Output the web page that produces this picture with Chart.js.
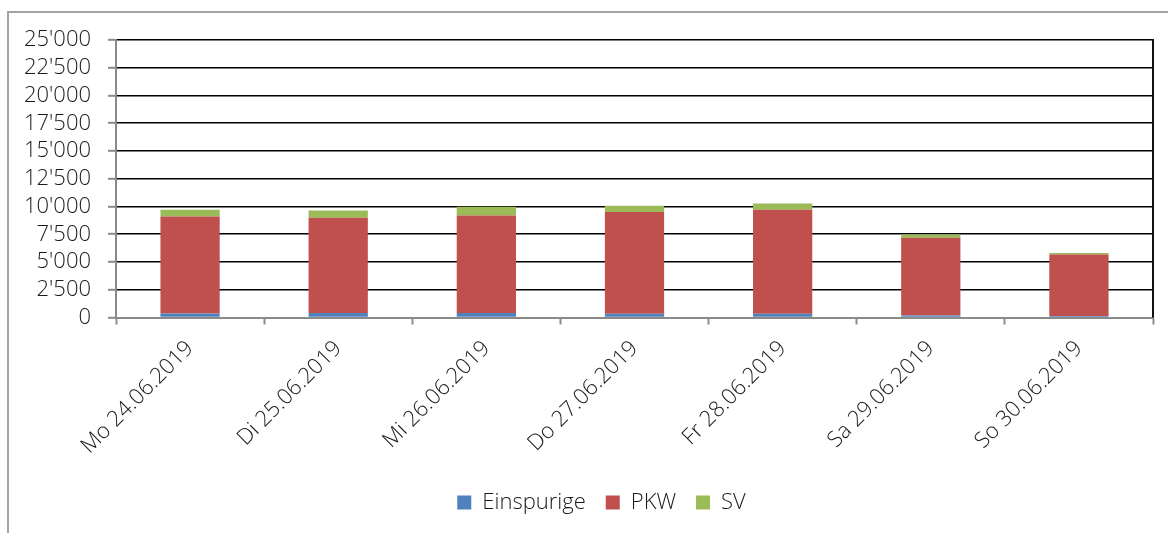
<!DOCTYPE html>
<html>
<head>
<meta charset="utf-8">
<script src="https://cdn.jsdelivr.net/npm/chart.js@4/dist/chart.umd.min.js"></script>
<style>
  html, body { margin: 0; padding: 0; background: #fff; overflow: hidden; }
  #frame {
    position: absolute; left: 7px; top: 11px; width: 1200px; height: 600px;
    border-left: 2px solid #a3a3a3; border-top: 2px solid #a3a3a3;
  }
  #wrap { position: absolute; left: 0; top: 0; width: 1168px; height: 538px; }
</style>
</head>
<body>
<div id="frame"></div>
<div id="wrap"><canvas id="chart"></canvas></div>
<script>
// --- Data ---
const days = [
  "Mo 24.06.2019",
  "Di 25.06.2019",
  "Mi 26.06.2019",
  "Do 27.06.2019",
  "Fr 28.06.2019",
  "Sa 29.06.2019",
  "So 30.06.2019"
];

const einspurige = [360, 400, 400, 340, 340, 180, 130];
const pkw = [8740, 8580, 8790, 9160, 9360, 7000, 5550];
const sv = [600, 660, 780, 560, 570, 300, 120];

const Y_MAX = 25000;
const Y_STEP = 2500;

// --- Style ---
const FONT = { family: "'Open Sans', sans-serif", size: 22, weight: "300" };
const TEXT = "#1a1a1a";
const AXIS = "#8a8a8a";

// thousands with apostrophe, e.g. 25'000
function swiss(n) {
  return String(n).replace(/\B(?=(\d{3})+(?!\d))/g, "'");
}

// black line on the right edge of the plot area
const rightEdge = {
  id: "rightEdge",
  beforeDatasetsDraw(chart) {
    const { ctx, chartArea } = chart;
    ctx.save();
    ctx.strokeStyle = "#111";
    ctx.lineWidth = 2;
    ctx.beginPath();
    ctx.moveTo(chartArea.right, chartArea.top - 1);
    ctx.lineTo(chartArea.right, chartArea.bottom);
    ctx.stroke();
    ctx.restore();
  }
};

// legend in the original sits a bit right of the canvas centre
const legendShift = {
  id: "legendShift",
  afterLayout(chart) {
    const lg = chart.legend;
    if (!lg) return;
    lg.left += 20;
    lg.right += 20;
  }
};

new Chart(document.getElementById("chart"), {
  type: "bar",
  data: {
    labels: days,
    datasets: [
      { label: "Einspurige", data: einspurige, backgroundColor: "#4F81BD" },
      { label: "PKW", data: pkw, backgroundColor: "#C0504D" },
      { label: "SV", data: sv, backgroundColor: "#9BBB59" }
    ]
  },
  options: {
    responsive: true,
    maintainAspectRatio: false,
    animation: false,
    layout: { padding: { left: 10, right: 15, top: 40, bottom: 14.5 } },
    datasets: { bar: { barPercentage: 0.4, categoryPercentage: 1 } },
    scales: {
      x: {
        stacked: true,
        afterFit: (s) => { s.height = 154; },
        grid: {
          drawOnChartArea: false,
          drawTicks: true,
          tickLength: 7,
          tickColor: AXIS,
          tickWidth: 2
        },
        border: { color: AXIS, width: 2 },
        ticks: {
          autoSkip: false,
          maxRotation: 45,
          minRotation: 45,
          padding: 11,
          color: TEXT,
          font: FONT
        }
      },
      y: {
        stacked: true,
        min: 0,
        max: Y_MAX,
        afterFit: (s) => { s.width = 106; },
        grid: {
          color: (c) => (c.tick && c.tick.value === 0 ? "rgba(0,0,0,0)" : "#000"),
          lineWidth: 1.6,
          tickLength: 8,
          tickColor: AXIS,
          tickWidth: 2
        },
        border: { color: AXIS, width: 2 },
        ticks: {
          stepSize: Y_STEP,
          autoSkip: false,
          padding: 17,
          color: TEXT,
          font: FONT,
          callback: (v) => swiss(v)
        }
      }
    },
    plugins: {
      legend: {
        position: "bottom",
        labels: {
          boxWidth: 14,
          boxHeight: 14,
          padding: 20,
          color: TEXT,
          font: FONT
        }
      },
      tooltip: { enabled: false }
    }
  },
  plugins: [rightEdge, legendShift]
});
</script>
</body>
</html>
